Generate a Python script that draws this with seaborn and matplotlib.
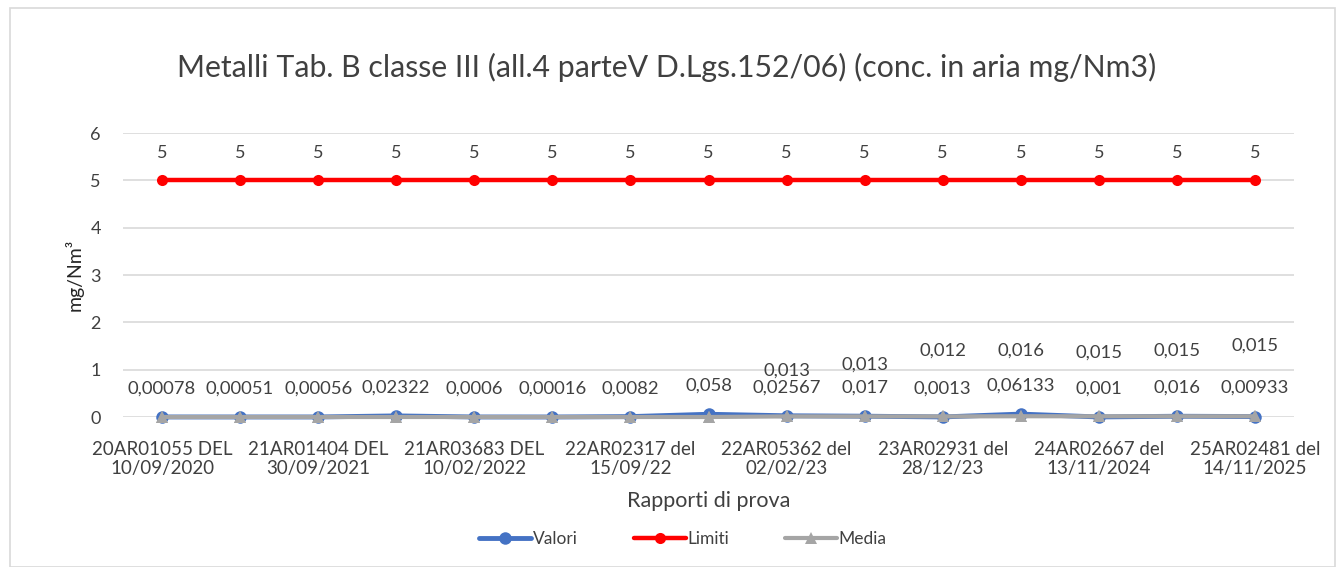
import matplotlib
matplotlib.use("Agg")
import matplotlib.pyplot as plt
from matplotlib.patches import Rectangle
import seaborn as sns
import pandas as pd

# ---- data ----
n_reports = 15
tick_labels = ["20AR01055 DEL\n10/09/2020", "21AR01404 DEL\n30/09/2021",
               "21AR03683 DEL\n10/02/2022", "22AR02317 del\n15/09/22",
               "22AR05362 del\n02/02/23", "23AR02931 del\n28/12/23",
               "24AR02667 del\n13/11/2024", "25AR02481 del\n14/11/2025"]
valori = [0.00078, 0.00051, 0.00056, 0.02322, 0.0006, 0.00016, 0.0082, 0.058,
          0.02567, 0.017, 0.0013, 0.06133, 0.001, 0.016, 0.00933]
valori_labels = ["0,00078", "0,00051", "0,00056", "0,02322", "0,0006", "0,00016",
                 "0,0082", "0,058", "0,02567", "0,017", "0,0013", "0,06133",
                 "0,001", "0,016", "0,00933"]
limiti = [5] * 15
media = [0.0, 0.0, 0.0, 0.0, 0.0, 0.0, 0.0, 0.0,
         0.013, 0.013, 0.012, 0.016, 0.015, 0.015, 0.015]
media_labels = ["", "", "", "", "", "", "", "",
                "0,013", "0,013", "0,012", "0,016", "0,015", "0,015", "0,015"]
# label offsets (points) as placed in the original chart
media_label_offsets = [0, 0, 0, 0, 0, 0, 0, 0, 33, 37.5, 47.5, 47, 46, 47, 51]

sns.set_theme(style="white")
plt.rcParams['font.family'] = ['Lato', 'DejaVu Sans']

idx = list(range(n_reports))
df = pd.DataFrame({
    "x": idx * 3,
    "y": valori + limiti + media,
    "serie": ["Valori"] * 15 + ["Limiti"] * 15 + ["Media"] * 15,
})
palette = {"Valori": "#4472C4", "Limiti": "#FF0000", "Media": "#A5A5A5"}

fig = plt.figure(figsize=(13.43, 5.67), dpi=100)
fig.patches.append(Rectangle((10 / 1343, 0.0), 1325 / 1343, 1 - 8 / 567,
                             transform=fig.transFigure, fill=False,
                             edgecolor="#D9D9D9", linewidth=1.2))
ax = fig.add_axes([123 / 1343, 1 - 417 / 567, (1294 - 123) / 1343, (417 - 133) / 567])

txt = "#404040"
for yv in range(0, 7):
    ax.axhline(yv, color="#D9D9D9", linewidth=1.2, zorder=0)

sns.lineplot(data=df[df.serie == "Limiti"], x="x", y="y", color=palette["Limiti"],
             linewidth=3.2, marker="o", markersize=8, markeredgewidth=0, ax=ax,
             label="Limiti", clip_on=False, zorder=3)
sns.lineplot(data=df[df.serie == "Media"], x="x", y="y", color=palette["Media"],
             linewidth=3, marker="^", markersize=8, markeredgewidth=0, ax=ax,
             label="Media", clip_on=False, zorder=4)
sns.lineplot(data=df[df.serie == "Valori"], x="x", y="y", color=palette["Valori"],
             linewidth=3.5, marker="o", markersize=9, markeredgewidth=0, ax=ax,
             label="Valori", clip_on=False, zorder=3)
ax.plot(idx, media, linestyle="none", marker="^", markersize=8, color=palette["Media"],
        markeredgewidth=0, clip_on=False, zorder=5)

for i in idx:
    ax.annotate(str(limiti[i]), (i, limiti[i]), xytext=(0, 20), textcoords="offset points",
                ha="center", va="center", fontsize=13, color=txt)
    ax.annotate(valori_labels[i], (i, valori[i]), xytext=(0, 20.5), textcoords="offset points",
                ha="center", va="center", fontsize=13.3, color=txt)
    if media_labels[i]:
        ax.annotate(media_labels[i], (i, media[i]), xytext=(0, media_label_offsets[i]),
                    textcoords="offset points", ha="center", va="center",
                    fontsize=13.3, color=txt)

ax.set_xlim(-0.5, n_reports - 0.5)
ax.set_ylim(0, 6)
ax.set_yticks(range(0, 7))
ax.set_yticklabels([str(v) for v in range(0, 7)], fontsize=13, color=txt)
ax.set_xticks(idx[::2])
ax.set_xticklabels(tick_labels, fontsize=13.5, color=txt, linespacing=1.2)
ax.tick_params(axis="y", length=0, pad=16)
ax.tick_params(axis="x", length=0, pad=17)
for s in ax.spines.values():
    s.set_visible(False)

ax.set_xlabel("Rapporti di prova", fontsize=15.5, color=txt, labelpad=10)
ax.set_ylabel("mg/Nm³", fontsize=14, color="#262626", labelpad=5)

fig.text(667 / 1343, 1 - 67 / 567, "Metalli Tab. B classe III (all.4 parteV D.Lgs.152/06) (conc. in aria mg/Nm3)",
         ha="center", va="center", fontsize=21.8, color=txt)

handles, labels = ax.get_legend_handles_labels()
order = [labels.index("Valori"), labels.index("Limiti"), labels.index("Media")]
leg = fig.legend([handles[k] for k in order], [labels[k] for k in order],
                 loc="center", bbox_to_anchor=(683 / 1343, 1 - 539 / 567), ncol=3,
                 frameon=False, fontsize=12.5, handlelength=3, columnspacing=3.2,
                 handletextpad=0.1)
for t in leg.get_texts():
    t.set_color(txt)
if ax.get_legend() is not None:
    ax.get_legend().remove()

fig.savefig("out.png", dpi=100)
